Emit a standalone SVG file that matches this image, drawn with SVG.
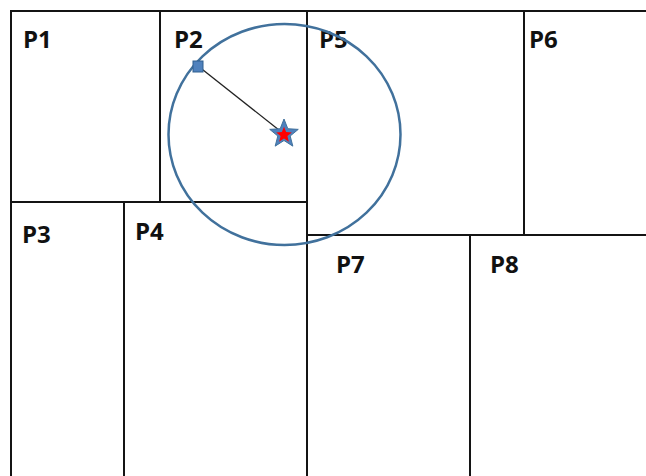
<svg xmlns="http://www.w3.org/2000/svg" width="646" height="476" viewBox="0 0 646 476">
<style>
.b{stroke:#141414;stroke-width:2;fill:none;stroke-linecap:square}
.t{font-family:"Open Sans","Liberation Sans",sans-serif;font-weight:bold;font-size:24px;fill:#111}
</style>
<defs>
<polygon id="star" points="0,-15 3.82,-5.26 14.27,-4.64 6.18,2.01 8.82,12.14 0,6.5 -8.82,12.14 -6.18,2.01 -14.27,-4.64 -3.82,-5.26"/>
</defs>
<rect width="646" height="476" fill="#fff"/>
<g id="partitions">
<path class="b" d="M11,11 H646 M11,11 V476 M160,11 V202 M11,202 H307 M307,11 V476 M124,202 V476 M307,235 H646 M524,11 V235 M470,235 V476"/>
</g>
<g id="P1"><text class="t" x="23" y="48">P1</text></g>
<g id="P2"><text class="t" x="174" y="48">P2</text></g>
<g id="P3"><text class="t" x="22" y="243">P3</text></g>
<g id="P4"><text class="t" x="135" y="240">P4</text></g>
<g id="P5"><text class="t" x="319" y="48">P5</text></g>
<g id="P6"><text class="t" x="529" y="48">P6</text></g>
<g id="P7"><text class="t" x="336" y="273">P7</text></g>
<g id="P8"><text class="t" x="490" y="273">P8</text></g>
<g id="range">
<ellipse cx="284.5" cy="134.5" rx="116" ry="110.5" fill="none" stroke="#41719c" stroke-width="2.5"/>
</g>
<g id="connectors">
<line x1="198" y1="66" x2="284" y2="134" stroke="#222" stroke-width="1.3"/>
</g>
<g id="point">
<rect x="193" y="61" width="10" height="11" fill="#4f81bd" stroke="#2f5f8f" stroke-width="1"/>
</g>
<g id="query">
<use href="#star" transform="translate(284,134)" fill="#4f81bd" stroke="#41719c" stroke-width="1"/>
<use href="#star" transform="translate(284,135) scale(0.55)" fill="#ff0000"/>
</g>
</svg>
